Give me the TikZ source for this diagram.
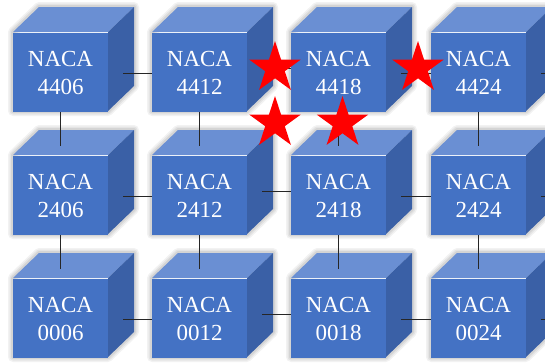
\documentclass[tikz,border=0pt]{standalone}
\usepackage{fontspec}
\setmainfont{Liberation Serif}
\usetikzlibrary{shapes.geometric}
\definecolor{frontc}{HTML}{4472C4}
\definecolor{topc}{HTML}{6A8FD3}
\definecolor{sidec}{HTML}{3A60A6}
\tikzset{
  face/.style={rectangle, fill=frontc, minimum width=95pt, minimum height=79pt,
    inner sep=0pt, text=white, font=\fontsize{23}{28}\selectfont, align=center},
  link/.style={draw=black!85, line width=1pt},
  redstar/.style={star, star points=5, star point ratio=2.618, fill=red,
    draw=none, minimum size=54pt, inner sep=0pt},
  glow/.style={draw=black, line join=round},
}
\begin{document}
\begin{tikzpicture}[x=1pt,y=-1pt]
\useasboundingbox (0,0) rectangle (545,362);
\clip (0,0) rectangle (545,362);
\foreach \r/\yo/\ra in {1/32/44, 2/155/24, 3/278/00} {
  \foreach \c/\xo/\cb in {1/13/06, 2/152/12, 3/291/18, 4/431/24} {
    \foreach \lw/\op in {10/0.05, 7/0.06, 4/0.07}
      \draw[glow, line width=\lw pt, opacity=\op]
        (\xo,\yo+79) -- (\xo,\yo) -- ++(26,-25) -- ++(95,0) -- ++(0,79) -- (\xo+95,\yo+79) -- cycle;
    \fill[topc] (\xo,\yo) -- ++(26,-25) -- ++(95,0) -- (\xo+95,\yo) -- cycle;
    \fill[sidec] (\xo+95,\yo) -- ++(26,-25) -- ++(0,79) -- (\xo+95,\yo+79) -- cycle;
    \node[face] (n\r\c) at (\xo+47.5,\yo+40.5) {NACA\\\ra\cb};
  }
}
% horizontal connectors
\foreach \r in {1,2,3} {
  \draw[link] ([xshift=15pt,yshift=-1pt]n\r1.east) -- ([yshift=-1pt]n\r2.west);
  \draw[link] ([xshift=15pt,yshift=4pt]n\r2.east) -- ([yshift=4pt]n\r3.west);
  \draw[link] ([xshift=15pt,yshift=-1pt]n\r3.east) -- ([yshift=-1pt]n\r4.west);
  \coordinate (out\r) at ([xshift=40pt,yshift=-1pt]n\r4.east);
  \draw[link] ([xshift=15pt,yshift=-1pt]n\r4.east) -- (out\r);
}
% vertical connectors
\foreach \c in {1,2,3,4} {
  \draw[link] (n1\c.south) -- ([yshift=10pt]n2\c.north);
  \draw[link] (n2\c.south) -- ([yshift=10pt]n3\c.north);
}
% stars
\node[redstar] (s1) at (275,68) {};
\node[redstar] (s2) at (418,68) {};
\node[redstar] (s3) at (275,123) {};
\node[redstar] (s4) at (342.5,123) {};
\end{tikzpicture}
\end{document}
